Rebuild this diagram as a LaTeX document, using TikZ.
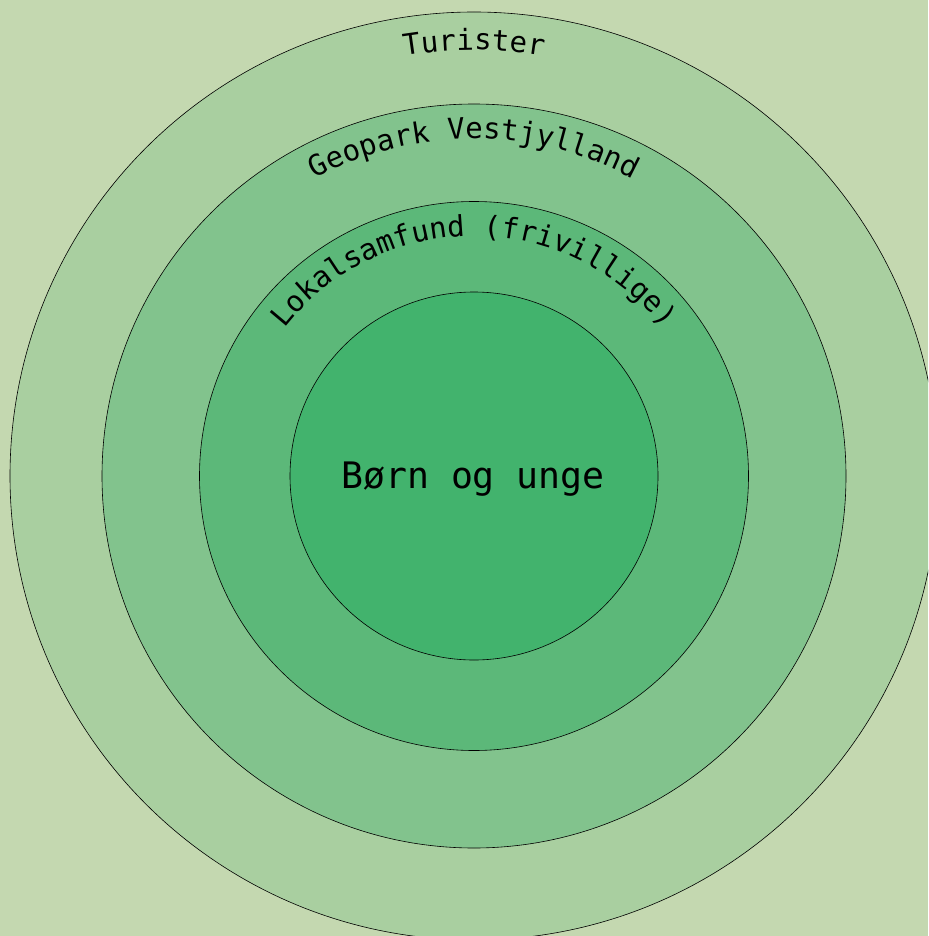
\documentclass[tikz,border=0pt]{standalone}
\usepackage{fontspec}
\setmonofont{DejaVu Sans Mono}
\usetikzlibrary{decorations.text}
\definecolor{bgc}{HTML}{C4D8B0}
\definecolor{ringa}{HTML}{A9CFA0}
\definecolor{ringb}{HTML}{82C38D}
\definecolor{ringc}{HTML}{5CB879}
\definecolor{ringd}{HTML}{42B36D}
\tikzset{
  ring/.style={circle, draw=black, line width=0.6pt, inner sep=0pt},
  arclabel/.style={decorate, decoration={text along path, text align=center,
     text={|\ttfamily\fontsize{29}{29}\selectfont|#1}}}
}
\begin{document}
\begin{tikzpicture}
\fill[bgc] (0pt,0pt) rectangle (928pt,-936pt);
\useasboundingbox (0pt,0pt) rectangle (928pt,-936pt);
\begin{scope}
\clip (0pt,0pt) rectangle (928pt,-936pt);
\coordinate (c) at (474pt,-476pt);
\node[ring, fill=ringa, minimum size=928pt] (turister) at (c) {};
\node[ring, fill=ringb, minimum size=744pt] (geopark) at (c) {};
\node[ring, fill=ringc, minimum size=549pt] (lokal) at (c) {};
\node[ring, fill=ringd, minimum size=368pt] (boern) at (c) {};
\path[arclabel={Turister}] ([xshift=-426pt]c) arc[start angle=180, end angle=0, radius=426pt];
\path[arclabel={Geopark Vestjylland}] ([xshift=-337pt]c) arc[start angle=180, end angle=0, radius=337pt];
\path[arclabel={Lokalsamfund (frivillige)}] ([xshift=-240pt]c) arc[start angle=180, end angle=0, radius=240pt];
\node[anchor=base, font=\ttfamily\fontsize{36.5}{36.5}\selectfont, inner sep=0pt] (label) at (473pt,-488pt) {Børn og unge};
\end{scope}
\end{tikzpicture}
\end{document}
